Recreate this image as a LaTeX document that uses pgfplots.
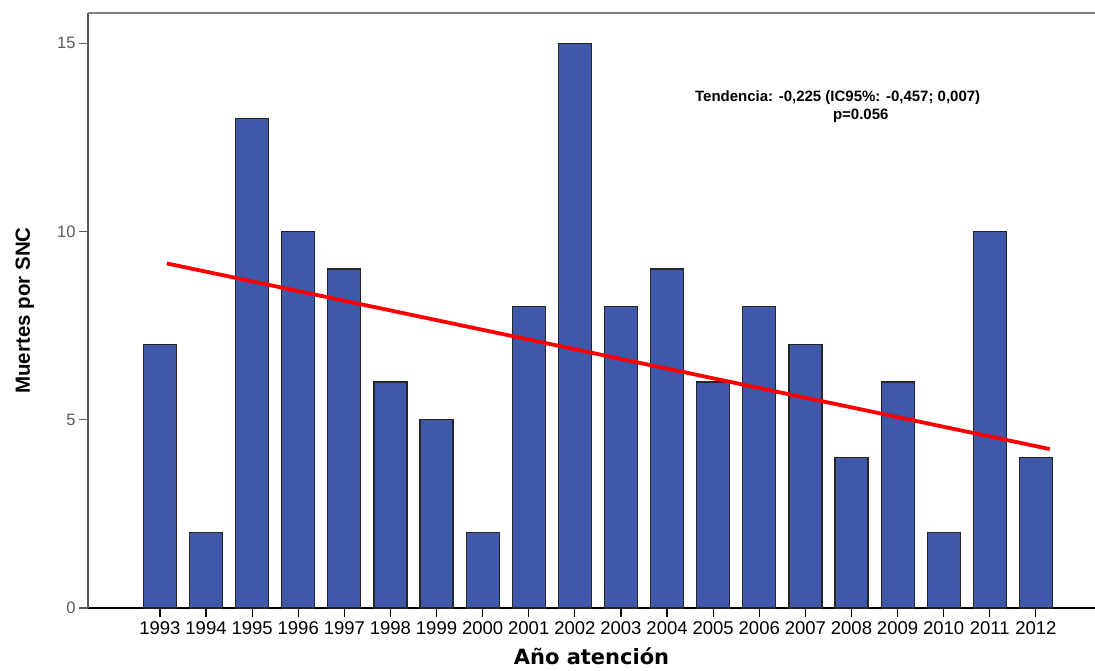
\documentclass[border=0pt]{standalone}
\usepackage{pgfplots}
\pgfplotsset{compat=1.18}
\usepackage{fontspec}
\setmainfont{Liberation Sans}
\newfontfamily\dvb{DejaVu Sans}
\definecolor{barblue}{RGB}{62,88,170}
\definecolor{axgray}{RGB}{90,90,90}
\begin{document}
\begin{tikzpicture}[x=1pt,y=1pt]
\useasboundingbox (-88,-63) rectangle (1007,608);
\begin{axis}[
  at={(0,0)}, anchor=south west,
  scale only axis, width=1007pt, height=595pt,
  xmin=1991.44, xmax=2013.28,
  ymin=0, ymax=15.8,
  axis lines*=left,
  x axis line style={black, line width=1.2pt},
  y axis line style={axgray, line width=1.6pt},
  xtick={1993,...,2012},
  xticklabels={1993,1994,1995,1996,1997,1998,1999,2000,2001,2002,2003,2004,2005,2006,2007,2008,2009,2010,2011,2012},
  x tick label style={font=\fontsize{18.5}{20}\selectfont, black, yshift=-1pt},
  ytick={0,5,10,15},
  y tick label style={font=\fontsize{16.5}{18}\selectfont, axgray},
  /pgf/number format/assume math mode=true,
  tick align=outside,
  major tick length=9pt,
  x tick style={black, line width=1.2pt},
  y tick style={axgray, line width=1.2pt},
  xlabel={{\dvb\bfseries Año atención}},
  xlabel style={font=\fontsize{21}{23}\selectfont, yshift=-6pt},
  ylabel={\bfseries Muertes por SNC},
  ylabel style={font=\fontsize{20.5}{22}\selectfont, yshift=16pt},
  clip=false,
]
\addplot[ybar, bar width=0.716, fill=barblue, draw=black!85, line width=1.2pt] coordinates {
(1993,7) (1994,2) (1995,13) (1996,10) (1997,9) (1998,6) (1999,5) (2000,2) (2001,8) (2002,15)
(2003,8) (2004,9) (2005,6) (2006,8) (2007,7) (2008,4) (2009,6) (2010,2) (2011,10) (2012,4)
};
\addplot[red, line width=3.8pt, no marks] coordinates {(1993.15,9.15) (2012.3,4.22)};
\node[font=\fontsize{15}{16}\selectfont\bfseries, inner sep=0] at (axis cs:2007.7,13.56) {Tendencia: -0,225 (IC95\%: -0,457; 0,007)};
\node[font=\fontsize{15}{16}\selectfont\bfseries, inner sep=0] at (axis cs:2008.2,13.06) {p=0.056};
\end{axis}
\draw[gray, line width=2pt] (0,595) -- (1007,595);
\end{tikzpicture}
\end{document}
